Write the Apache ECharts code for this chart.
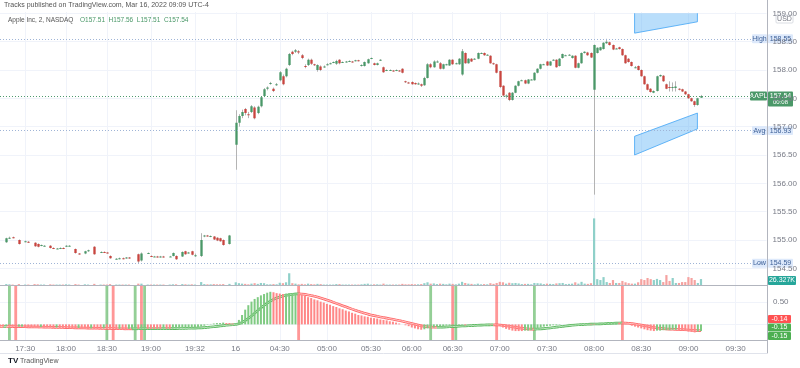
<!DOCTYPE html>
<html><head><meta charset="utf-8">
<script src="https://cdn.jsdelivr.net/npm/echarts@6/dist/echarts.min.js"></script>
<style>html,body{margin:0;padding:0;background:#fff}#c{width:800px;height:368px}</style>
</head><body><div id="c"></div>
<script>
// ---------- DATA ----------
const SLOT_COUNT = 245; // 2-minute slots on the category axis (incl. empty future slots)
const tickLabels = [[8,'17:30'],[21,'18:00'],[34,'18:30'],[48,'19:00'],[62,'19:32'],[75,'16'],[89,'04:30'],[104,'05:00'],[118,'05:30'],[131,'06:00'],[144,'06:30'],[159,'07:00'],[174,'07:30'],[189,'08:00'],[204,'08:30'],[219,'09:00'],[234,'09:30']];
// [slot, open, close, low, high, volume(K)]
const bars = [
[2,154.96,155.03,154.95,155.04,4],[3,155.03,155.04,155.02,155.06,3],[4,155.05,155.04,155.03,155.06,2],[6,155.00,154.93,154.92,155.01,4],
[8,154.97,154.98,154.96,154.99,2],[9,154.97,154.96,154.95,154.98,2],[11,154.95,154.89,154.88,154.96,4],[12,154.93,154.88,154.87,154.94,3],
[13,154.90,154.91,154.89,154.92,2],[14,154.90,154.90,154.89,154.91,2],[16,154.90,154.86,154.85,154.91,3],[17,154.86,154.85,154.84,154.87,2],
[18,154.85,154.85,154.84,154.86,2],[19,154.85,154.86,154.84,154.87,2],[20,154.86,154.85,154.84,154.87,2],[21,154.89,154.90,154.88,154.91,3],
[22,154.90,154.90,154.89,154.91,2],[24,154.84,154.77,154.76,154.85,4],[25,154.76,154.75,154.74,154.77,2],[27,154.76,154.80,154.75,154.81,3],
[28,154.80,154.82,154.79,154.83,2],[30,154.88,154.75,154.74,154.89,5],[32,154.78,154.79,154.77,154.80,2],[33,154.79,154.78,154.77,154.80,2],
[34,154.78,154.77,154.76,154.79,2],[35,154.72,154.68,154.67,154.73,4],[37,154.67,154.67,154.66,154.68,2],[38,154.67,154.68,154.66,154.69,2],
[39,154.68,154.67,154.66,154.69,2],[40,154.68,154.69,154.67,154.70,2],[41,154.69,154.68,154.67,154.70,2],[44,154.75,154.62,154.59,154.76,6],
[45,154.64,154.76,154.62,154.78,6],[47,154.77,154.77,154.76,154.78,2],[48,154.72,154.71,154.70,154.73,2],[49,154.71,154.71,154.70,154.72,2],
[50,154.71,154.70,154.69,154.72,2],[51,154.70,154.71,154.69,154.72,2],[52,154.71,154.70,154.69,154.72,2],[54,154.71,154.71,154.70,154.72,2],
[55,154.72,154.77,154.71,154.78,3],[56,154.72,154.66,154.65,154.73,3],[58,154.71,154.79,154.70,154.80,4],[59,154.80,154.75,154.74,154.81,3],
[60,154.77,154.78,154.76,154.79,2],[61,154.80,154.74,154.73,154.81,3],[62,154.73,154.73,154.70,154.76,2],[64,154.72,155.00,154.70,155.12,13],
[65,155.06,155.08,155.05,155.09,4],[66,155.08,155.07,155.06,155.09,3],[67,155.06,155.07,155.05,155.08,3],[68,155.06,155.01,155.00,155.07,4],
[69,155.04,154.99,154.98,155.05,3],[70,155.03,154.98,154.97,155.04,3],[71,155.00,154.91,154.90,155.01,4],[73,154.93,155.08,154.92,155.09,5],
[75,156.68,157.07,156.24,157.29,12],[76,157.07,157.19,157.00,157.22,8],[77,157.19,157.26,157.15,157.30,6],[78,157.31,157.24,157.20,157.33,5],
[79,157.22,157.20,157.15,157.26,3],[80,157.26,157.36,157.24,157.38,6],[81,157.34,157.15,157.13,157.36,8],[82,157.24,157.35,157.22,157.37,5],
[83,157.36,157.52,157.34,157.54,9],[84,157.54,157.66,157.52,157.68,8],[85,157.67,157.69,157.64,157.71,3],[86,157.76,157.77,157.74,157.79,3],
[87,157.67,157.63,157.61,157.69,4],[88,157.74,157.75,157.72,157.77,3],[89,157.82,157.96,157.80,157.98,10],[90,157.89,157.75,157.73,157.92,8],
[91,157.89,158.02,157.87,158.04,12],[92,158.09,158.28,158.07,158.30,52],[93,158.32,158.28,158.26,158.34,8],[94,158.32,158.35,158.30,158.37,6],
[95,158.33,158.31,158.28,158.35,3],[96,158.26,158.21,158.19,158.28,5],[97,158.07,158.06,158.03,158.10,3],[98,158.09,158.18,158.07,158.20,6],
[99,158.18,158.11,158.09,158.20,4],[100,158.10,158.09,158.07,158.11,3],[101,158.00,158.09,157.97,158.10,5],[102,158.06,158.00,157.98,158.08,4],
[103,158.05,158.06,158.04,158.08,2],[104,158.09,158.10,158.08,158.12,2],[105,158.11,158.12,158.10,158.13,2],[106,158.13,158.14,158.12,158.15,2],
[107,158.11,158.16,158.09,158.18,4],[108,158.18,158.12,158.10,158.19,4],[109,158.14,158.14,158.13,158.15,2],[110,158.14,158.15,158.13,158.16,2],
[111,158.15,158.16,158.14,158.17,2],[112,158.15,158.14,158.13,158.16,2],[113,158.16,158.17,158.15,158.18,2],[114,158.17,158.16,158.15,158.18,2],
[115,158.07,158.09,158.06,158.10,3],[116,158.07,158.14,158.06,158.15,5],[117,158.12,158.19,158.11,158.20,6],[118,158.20,158.21,158.19,158.22,2],
[119,158.12,158.09,158.08,158.13,3],[120,158.09,158.12,158.08,158.13,3],[121,158.17,158.18,158.16,158.19,2],[122,158.05,157.96,157.95,158.06,6],
[123,157.99,158.00,157.98,158.01,2],[124,158.00,158.00,157.99,158.01,2],[125,157.99,157.98,157.97,158.00,2],[126,157.99,158.00,157.98,158.01,2],
[127,157.99,157.98,157.97,158.00,2],[128,158.02,157.95,157.94,158.03,5],[129,157.80,157.79,157.77,157.81,3],[130,157.78,157.77,157.76,157.79,3],
[131,157.79,157.75,157.74,157.80,4],[132,157.77,157.75,157.74,157.78,3],[133,157.76,157.76,157.74,157.78,3],[134,157.75,157.72,157.70,157.76,4],
[135,157.73,157.86,157.72,157.88,8],[136,157.86,158.10,157.85,158.12,12],[137,158.10,158.05,158.03,158.12,6],[138,158.05,158.15,158.04,158.17,7],
[139,158.15,158.15,158.13,158.17,4],[140,158.12,158.02,158.01,158.14,6],[141,158.02,158.10,158.01,158.11,5],[142,158.10,158.10,158.08,158.11,3],
[143,158.08,158.18,158.07,158.19,6],[144,158.18,158.10,158.09,158.19,5],[145,158.12,158.12,158.10,158.13,3],[146,158.10,158.20,158.09,158.21,6],
[147,157.92,158.33,157.90,158.37,14],[148,158.30,158.12,158.11,158.31,9],[149,158.12,158.20,158.11,158.21,6],[150,158.20,158.15,158.14,158.21,5],
[151,158.20,158.20,158.19,158.21,3],[152,158.20,158.30,158.19,158.31,6],[153,158.30,158.30,158.29,158.31,3],[154,158.30,158.26,158.25,158.31,4],
[155,158.27,158.27,158.26,158.28,3],[156,158.25,158.12,158.11,158.26,8],[157,158.12,158.10,158.09,158.13,5],[158,158.10,157.95,157.94,158.11,9],
[159,157.98,157.70,157.68,157.99,14],[160,157.72,157.55,157.53,157.73,12],[161,157.55,157.55,157.50,157.57,6],[162,157.60,157.47,157.45,157.61,10],
[163,157.47,157.60,157.46,157.61,8],[164,157.60,157.72,157.59,157.73,9],[165,157.72,157.80,157.71,157.81,7],[166,157.82,157.82,157.81,157.83,4],
[167,157.82,157.76,157.75,157.83,5],[168,157.76,157.83,157.75,157.84,5],[169,157.83,157.83,157.82,157.84,3],[170,157.82,157.95,157.81,157.96,9],
[171,157.95,158.02,157.94,158.03,8],[172,158.02,158.10,158.01,158.11,7],[173,158.10,158.10,158.09,158.11,4],[174,158.15,158.08,158.07,158.16,6],
[175,158.08,158.15,158.07,158.16,5],[176,158.18,158.18,158.17,158.19,4],[177,158.18,158.05,158.04,158.19,7],[178,158.07,158.20,158.06,158.21,8],
[179,158.21,158.28,158.20,158.29,9],[180,158.26,158.26,158.25,158.27,4],[181,158.27,158.27,158.26,158.28,5],[182,158.21,158.25,158.20,158.26,6],
[183,158.25,158.04,158.03,158.26,12],[184,158.04,158.12,158.03,158.13,6],[185,158.12,158.30,158.11,158.31,14],[186,158.30,158.32,158.29,158.33,6],
[187,158.31,158.26,158.25,158.32,5],[188,158.30,158.22,158.21,158.31,8],[189,157.65,158.44,155.80,158.45,295],[190,158.30,158.39,158.29,158.40,26],
[191,158.35,158.40,158.34,158.41,22],[192,158.37,158.48,158.36,158.49,35],[193,158.47,158.50,158.46,158.55,13],[194,158.49,158.44,158.43,158.50,9],
[195,158.44,158.36,158.35,158.45,22],[196,158.38,158.38,158.37,158.39,9],[197,158.40,158.37,158.36,158.41,9],[198,158.37,158.26,158.25,158.38,18],
[199,158.26,158.12,158.11,158.27,12],[200,158.20,158.14,158.13,158.21,8],[201,158.14,158.07,158.06,158.15,6],[202,158.05,158.05,158.03,158.07,6],
[203,158.07,158.00,157.99,158.08,12],[204,158.00,157.89,157.88,158.01,26],[205,157.89,157.75,157.74,157.90,22],[206,157.75,157.65,157.64,157.76,31],
[207,157.67,157.61,157.60,157.68,26],[208,157.60,157.63,157.59,157.64,22],[209,157.63,157.89,157.62,157.90,27],[210,157.89,157.91,157.88,157.92,22],
[211,157.90,157.80,157.79,157.91,13],[212,157.75,157.67,157.66,157.76,44],[213,157.70,157.69,157.62,157.80,18],[214,157.70,157.70,157.62,157.78,31],
[215,157.68,157.71,157.62,157.80,9],[216,157.67,157.65,157.64,157.68,9],[217,157.66,157.62,157.61,157.67,13],[218,157.62,157.57,157.56,157.63,13],
[219,157.57,157.50,157.49,157.58,35],[220,157.50,157.45,157.44,157.51,31],[221,157.45,157.38,157.35,157.46,22],[222,157.38,157.50,157.37,157.51,9],
[223,157.51,157.54,157.51,157.56,26.327]
];
// Oscillator: fast histogram value per slot (0..223)
const fast = [
-0.05,-0.05,-0.04,-0.05,-0.05,-0.06,-0.05,-0.05,-0.06,-0.06,
-0.06,-0.06,-0.07,-0.06,-0.07,-0.07,-0.07,-0.08,-0.07,-0.08,
-0.08,-0.08,-0.08,-0.09,-0.09,-0.08,-0.09,-0.09,-0.10,-0.09,
-0.10,-0.10,-0.10,-0.09,-0.10,-0.10,-0.11,-0.11,-0.10,-0.11,
-0.11,-0.10,-0.10,-0.09,-0.10,-0.09,-0.09,-0.10,-0.10,-0.10,
-0.10,-0.10,-0.09,-0.10,-0.10,-0.09,-0.09,-0.09,-0.08,-0.08,
-0.08,-0.07,-0.07,-0.06,-0.05,-0.03,-0.01,0.01,0.02,0.03,
0.03,0.04,0.03,0.03,0.02,0.03,0.10,0.21,0.33,0.43,
0.51,0.57,0.61,0.65,0.68,0.71,0.73,0.72,0.70,0.69,
0.68,0.69,0.70,0.70,0.71,0.69,0.66,0.64,0.61,0.59,
0.56,0.54,0.51,0.49,0.46,0.44,0.41,0.39,0.36,0.34,
0.31,0.29,0.26,0.24,0.21,0.20,0.18,0.17,0.15,0.14,
0.13,0.11,0.10,0.09,0.07,0.06,0.04,0.02,0.00,-0.02,
-0.04,-0.07,-0.09,-0.11,-0.12,-0.11,-0.09,-0.08,-0.07,-0.05,
-0.04,-0.04,-0.03,-0.03,-0.02,-0.02,-0.02,-0.01,-0.02,-0.01,
0.00,0.00,0.01,0.00,0.00,0.00,-0.01,-0.01,-0.02,-0.04,
-0.07,-0.10,-0.12,-0.14,-0.15,-0.15,-0.15,-0.14,-0.14,-0.13,
-0.11,-0.09,-0.07,-0.05,-0.04,-0.03,-0.02,-0.02,-0.01,0.00,
0.00,0.01,0.01,0.00,0.00,0.01,0.01,0.02,0.01,0.01,
0.02,0.02,0.03,0.04,0.05,0.05,0.05,0.04,0.03,0.01,
-0.01,-0.03,-0.05,-0.07,-0.09,-0.11,-0.13,-0.14,-0.15,-0.14,
-0.14,-0.13,-0.13,-0.13,-0.12,-0.12,-0.13,-0.14,-0.15,-0.16,
-0.17,-0.18,-0.16,-0.15
];
// Oscillator: slow signal line per slot (0..223)
const slow = [
-0.048,-0.049,-0.048,-0.049,-0.050,-0.052,-0.052,-0.052,-0.054,-0.055,
-0.057,-0.058,-0.060,-0.060,-0.062,-0.064,-0.065,-0.067,-0.068,-0.070,
-0.071,-0.073,-0.074,-0.076,-0.078,-0.079,-0.080,-0.082,-0.084,-0.085,
-0.087,-0.088,-0.090,-0.090,-0.091,-0.093,-0.095,-0.097,-0.098,-0.099,
-0.100,-0.100,-0.100,-0.099,-0.099,-0.098,-0.097,-0.097,-0.097,-0.097,
-0.097,-0.097,-0.096,-0.096,-0.096,-0.095,-0.094,-0.093,-0.091,-0.090,
-0.088,-0.086,-0.084,-0.081,-0.078,-0.073,-0.067,-0.060,-0.052,-0.044,
-0.036,-0.028,-0.021,-0.015,-0.010,-0.003,0.014,0.043,0.085,0.133,
0.190,0.250,0.310,0.370,0.425,0.475,0.520,0.560,0.590,0.615,
0.635,0.650,0.662,0.672,0.680,0.684,0.680,0.672,0.660,0.646,
0.630,0.612,0.592,0.570,0.546,0.522,0.497,0.471,0.445,0.419,
0.393,0.367,0.342,0.317,0.293,0.270,0.249,0.230,0.212,0.196,
0.181,0.167,0.153,0.140,0.127,0.114,0.100,0.086,0.071,0.055,
0.038,0.020,0.002,-0.016,-0.032,-0.045,-0.054,-0.060,-0.063,-0.064,
-0.063,-0.061,-0.058,-0.054,-0.050,-0.046,-0.042,-0.038,-0.035,-0.031,
-0.027,-0.023,-0.019,-0.016,-0.013,-0.011,-0.010,-0.010,-0.011,-0.015,
-0.022,-0.032,-0.043,-0.055,-0.067,-0.078,-0.088,-0.096,-0.102,-0.106,
-0.107,-0.105,-0.101,-0.095,-0.088,-0.080,-0.071,-0.062,-0.053,-0.044,
-0.036,-0.028,-0.021,-0.015,-0.010,-0.005,-0.001,0.003,0.006,0.008,
0.010,0.012,0.015,0.018,0.022,0.026,0.029,0.031,0.031,0.029,
0.024,0.017,0.008,-0.003,-0.015,-0.028,-0.042,-0.056,-0.069,-0.080,
-0.089,-0.096,-0.102,-0.107,-0.110,-0.112,-0.115,-0.118,-0.122,-0.127,
-0.132,-0.138,-0.141,-0.142
];
const buySignals = [3, 34, 43, 46, 137, 145, 170];
const sellSignals = [5, 36, 45, 95, 144, 158, 198];
// Forecast drawings: [slotLeft, topLeft, bottomLeft, slotRight, topRight, bottomRight]
const bands = [
[202, 159.06, 158.65, 222, 159.06, 158.85],
[202, 156.83, 156.50, 222, 157.24, 156.96]
];
const levels = {high: 158.55, last: 157.54, avg: 156.93, low: 154.59};
const lastVolumeLabel = '26.327K';
const oscLabels = [['-0.14', 'red'], ['-0.15', 'green'], ['-0.15', 'green']];

// ---------- STYLE ----------
const UP = '#4a9868', DOWN = '#c8453f', WICK = '#b4b4b4';
const VOL_UP = '#8fd0c9', VOL_DOWN = '#f5a2a0';
const OSC_UP = '#7fca82', OSC_DOWN = '#ff8787';
const GRID_C = '#f0f3fa', TXT = '#787b86', FONT = 'Liberation Sans, Arial, sans-serif';
const labelSet = new Map(tickLabels);
const cats = Array.from({length: SLOT_COUNT}, (_, i) => String(i));

const chart = echarts.init(document.getElementById('c'), null, {renderer: 'canvas'});
const L = 0, R = 33;
function xAx(gi, extra) {
  return Object.assign({type: 'category', gridIndex: gi, data: cats, boundaryGap: false,
    axisLine: {show: false}, axisTick: {show: false}, axisLabel: {show: false}, splitLine: {show: false}}, extra || {});
}
const oscMin = -0.35, oscMax = 0.86;

function candleItem(params, api) {
  const i = api.value(0), o = api.value(1), c = api.value(2), lo = api.value(3), hi = api.value(4);
  const po = api.coord([i, o]), pc = api.coord([i, c]), pl = api.coord([i, lo]), ph = api.coord([i, hi]);
  const bw = Math.max(1.5, api.size([1, 0])[0] * 0.74);
  const x = Math.round(po[0]);
  const top = Math.min(po[1], pc[1]);
  const h = Math.max(1, Math.abs(po[1] - pc[1]));
  return {type: 'group', children: [
    {type: 'line', shape: {x1: x + 0.5, y1: ph[1], x2: x + 0.5, y2: pl[1]}, style: {stroke: WICK, lineWidth: 1}},
    {type: 'rect', shape: {x: x + 0.5 - bw / 2, y: top, width: bw, height: h}, style: {fill: c >= o ? UP : DOWN}}
  ]};
}

// direction colors
const fastColors = [];
fast.forEach((v, i) => {
  if (i === 0) fastColors.push(OSC_DOWN);
  else if (v > fast[i - 1]) fastColors.push(OSC_UP);
  else if (v < fast[i - 1]) fastColors.push(OSC_DOWN);
  else fastColors.push(fastColors[i - 1]);
});
const slowDir = [];
slow.forEach((v, i) => {
  if (i === 0) slowDir.push(-1);
  else if (v > slow[i - 1]) slowDir.push(1);
  else if (v < slow[i - 1]) slowDir.push(-1);
  else slowDir.push(slowDir[i - 1]);
});

const option = {
  animation: false,
  backgroundColor: '#ffffff',
  textStyle: {fontFamily: FONT},
  grid: [
    {left: L, right: R, top: 12, height: 328},          // 0 background vertical grid
    {left: L, right: R, top: 13.3, height: 255.05},     // 1 price
    {left: L, right: R, top: 215, height: 70},          // 2 volume
    {left: L, right: R, top: 286, height: 54},          // 3 oscillator
    {left: L, right: R, top: 0, height: 353}            // 4 frame
  ],
  xAxis: [
    xAx(0, {splitLine: {show: true, interval: (i) => labelSet.has(i), lineStyle: {color: GRID_C, width: 1}}}),
    xAx(1),
    xAx(2, {axisLine: {show: true, onZero: false, lineStyle: {color: '#b2b5be', width: 1}}}),
    xAx(3, {axisLine: {show: true, onZero: false, lineStyle: {color: '#b2b5be', width: 1}},
      axisLabel: {show: true, interval: (i) => labelSet.has(i), formatter: (v, i) => labelSet.get(i) || '',
        color: TXT, fontSize: 8, margin: 5, fontFamily: FONT}}),
    xAx(4, {axisLine: {show: true, onZero: false, lineStyle: {color: '#e0e3eb', width: 1}}})
  ],
  yAxis: [
    {type: 'value', gridIndex: 0, show: false},
    {type: 'value', gridIndex: 1, position: 'right', min: 154.5, max: 159.0, interval: 0.5,
      axisLine: {show: false}, axisTick: {show: false},
      axisLabel: {color: TXT, fontSize: 8, margin: 6, fontFamily: FONT, formatter: (v) => v.toFixed(2)},
      splitLine: {show: true, lineStyle: {color: GRID_C}}},
    {type: 'value', gridIndex: 2, min: 0, max: 310, show: false},
    {type: 'value', gridIndex: 3, position: 'right', min: oscMin, max: oscMax,
      axisLine: {show: false}, axisTick: {show: false, customValues: [0, 0.5]},
      axisLabel: {color: TXT, fontSize: 8, margin: 6, fontFamily: FONT, customValues: [0.5], formatter: (v) => v.toFixed(2)},
      splitLine: {show: true, lineStyle: {color: GRID_C}}},
    {type: 'value', gridIndex: 4, position: 'right', show: true, axisLine: {show: true, lineStyle: {color: '#b2b5be'}},
      axisTick: {show: false}, axisLabel: {show: false}, splitLine: {show: false}}
  ],
  series: [
    // forecast bands
    {type: 'custom', xAxisIndex: 1, yAxisIndex: 1, silent: true, clip: true,
      data: bands,
      encode: {x: [0, 3], y: [1, 2, 4, 5]},
      renderItem: (p, api) => {
        const a = api.coord([api.value(0), api.value(1)]), b = api.coord([api.value(3), api.value(4)]);
        const c2 = api.coord([api.value(3), api.value(5)]), d = api.coord([api.value(0), api.value(2)]);
        return {type: 'polygon', shape: {points: [a, b, c2, d]},
          style: {fill: 'rgba(100,181,246,0.45)', stroke: 'rgba(66,165,245,0.8)', lineWidth: 1}};
      }},
    // level lines
    {type: 'line', xAxisIndex: 1, yAxisIndex: 1, data: [], silent: true,
      markLine: {symbol: 'none', silent: true, label: {show: false}, animation: false,
        data: [
          {yAxis: levels.high, lineStyle: {color: '#9fb4d6', type: [1, 2], width: 1}},
          {yAxis: levels.last, lineStyle: {color: '#4f9a6e', type: [1, 2], width: 1}},
          {yAxis: levels.avg, lineStyle: {color: '#9fb4d6', type: [1, 2], width: 1}},
          {yAxis: levels.low, lineStyle: {color: '#9fb4d6', type: [1, 2], width: 1}}
        ]}},
    // volume
    {type: 'bar', xAxisIndex: 2, yAxisIndex: 2, barWidth: 2.2, silent: true,
      data: bars.map(b => ({value: [b[0], b[5]], itemStyle: {color: b[2] >= b[1] ? VOL_UP : VOL_DOWN}}))},
    // candles
    {type: 'custom', xAxisIndex: 1, yAxisIndex: 1, silent: true, clip: true,
      data: bars.map(b => [b[0], b[1], b[2], b[3], b[4]]),
      encode: {x: 0, y: [1, 2, 3, 4]},
      renderItem: candleItem},
    // signals
    {type: 'custom', xAxisIndex: 3, yAxisIndex: 3, silent: true,
      data: buySignals.map(i => [i, 1]).concat(sellSignals.map(i => [i, -1])),
      encode: {x: 0, y: 1},
      renderItem: (p, api) => {
        const t = api.coord([api.value(0), oscMax]), b = api.coord([api.value(0), oscMin]);
        const w = api.size([1, 0])[0] * 0.9;
        return {type: 'rect', shape: {x: t[0] - w / 2, y: t[1], width: w, height: b[1] - t[1]},
          style: {fill: api.value(1) > 0 ? 'rgba(76,175,80,0.6)' : 'rgba(255,82,82,0.6)'}};
      }},
    // histogram
    {type: 'bar', xAxisIndex: 3, yAxisIndex: 3, barWidth: 2, silent: true,
      data: fast.map((v, i) => ({value: [i, v], itemStyle: {color: fastColors[i]}}))},
    // slow line
    {type: 'custom', xAxisIndex: 3, yAxisIndex: 3, silent: true,
      data: slow.map((v, i) => [i, v, i > 0 ? slow[i - 1] : v, slowDir[i]]),
      encode: {x: 0, y: 1},
      renderItem: (p, api) => {
        const i = api.value(0);
        if (i === 0) return null;
        const a = api.coord([i - 1, api.value(2)]), b = api.coord([i, api.value(1)]);
        const up = api.value(3) > 0;
        return {type: 'group', children: [
          {type: 'line', shape: {x1: a[0], y1: a[1], x2: b[0], y2: b[1]}, style: {stroke: up ? '#52b456' : '#ff5f5f', lineWidth: 2.6}},
          {type: 'line', shape: {x1: a[0], y1: a[1], x2: b[0], y2: b[1]}, style: {stroke: up ? '#d9f0da' : '#ffe3e3', lineWidth: 0.8}}
        ]};
      }}
  ]
};
chart.setOption(option);

// ---------- axis tags (placed through the chart's own scales) ----------
function py(v) { return chart.convertToPixel({yAxisIndex: 1}, v); }
const AX = 800 - R;
function box(x, y, w, h, bg, txt, col, extra) {
  return {type: 'group', children: [
    {type: 'rect', shape: {x: x, y: y, width: w, height: h, r: 1}, style: Object.assign({fill: bg}, extra || {})},
    {type: 'text', style: {x: x + w / 2, y: y + h / 2, text: txt, fill: col, font: '7px ' + FONT, align: 'center', verticalAlign: 'middle'}}
  ]};
}
const BLUE_BG = '#dde9fb', BLUE_TX = '#3c5f96';
const g = [];
// title and legend
g.push({type: 'text', left: 4, top: 2, style: {text: 'Tracks published on TradingView.com, Mar 16, 2022 09:09 UTC-4', fill: '#555', font: '7px ' + FONT}});
g.push({type: 'text', left: 8, top: 14, style: {
  text: '{a|Apple Inc, 2, NASDAQ}  {b|O157.51  H157.56  L157.51  C157.54}',
  rich: {a: {fill: '#555', font: '6.5px ' + FONT}, b: {fill: '#4a9868', font: '6.5px ' + FONT}}}});
g.push({type: 'text', left: 8, top: 357, style: {text: 'TV', fill: '#131722', font: 'bold 8px ' + FONT}});
g.push({type: 'text', left: 20, top: 358, style: {text: 'TradingView', fill: '#555', font: '7px ' + FONT}});
// USD
g.push(box(AX + 9, 15, 17, 8, '#ffffff', 'USD', TXT, {stroke: '#d1d4dc', lineWidth: 0.8}));
[['High', levels.high], ['Avg', levels.avg], ['Low', levels.low]].forEach(([t, v]) => {
  const y = py(v);
  g.push(box(AX - 15, y - 4.5, 15, 9, BLUE_BG, t, BLUE_TX));
  g.push(box(AX + 1, y - 4.5, 25, 9, BLUE_BG, v.toFixed(2), BLUE_TX));
});
{
  const y = py(levels.last);
  g.push(box(AX - 17, y - 4.5, 17, 9, '#4a9868', 'AAPL', '#fff'));
  g.push({type: 'group', children: [
    {type: 'rect', shape: {x: AX + 1, y: y - 4.5, width: 25, height: 15, r: 1}, style: {fill: '#4a9868'}},
    {type: 'text', style: {x: AX + 13.5, y: y, text: levels.last.toFixed(2), fill: '#fff', font: '7px ' + FONT, align: 'center', verticalAlign: 'middle'}},
    {type: 'text', style: {x: AX + 13.5, y: y + 6.5, text: '00:08', fill: '#fff', font: '6px ' + FONT, align: 'center', verticalAlign: 'middle'}}
  ]});
}
g.push(box(AX + 1, 276, 28, 9, '#26a69a', lastVolumeLabel, '#fff'));
oscLabels.forEach(([t, c], k) => {
  g.push(box(AX + 1, 315 + k * 8.5, 23, 8, c === 'red' ? '#ff5252' : '#4caf50', t, '#fff'));
});
chart.setOption({graphic: g});
</script>
</body></html>
